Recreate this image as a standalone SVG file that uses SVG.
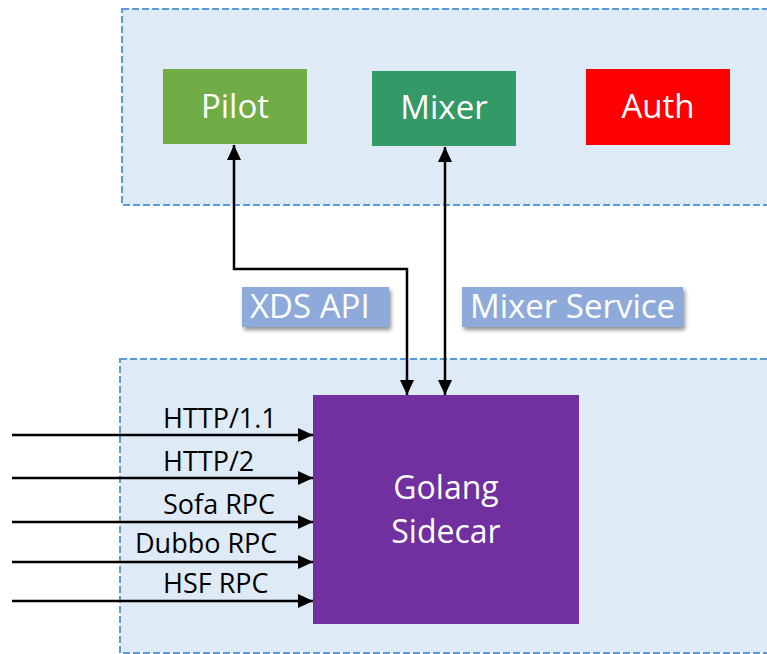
<svg xmlns="http://www.w3.org/2000/svg" width="767" height="654" viewBox="0 0 767 654">
<defs>
<style>
.container{fill:#deeaf6;stroke:#5b9bd5;stroke-width:2;stroke-dasharray:7 3}
.node text{fill:#ffffff;font-family:"Open Sans","Noto Sans",sans-serif;text-anchor:middle;font-size:33px}
.label rect{fill:#8eaadb}
.label text{fill:#ffffff;font-family:"Open Sans","Noto Sans",sans-serif;font-size:33px}
.conn{fill:none;stroke:#000;stroke-width:2.5}
.proto{fill:#000;font-family:"Open Sans","Noto Sans",sans-serif;font-size:27px}
</style>
<marker id="arr" viewBox="0 0 15 14" refX="15" refY="7" markerWidth="15" markerHeight="14" markerUnits="userSpaceOnUse" orient="auto-start-reverse">
<path d="M0,0 L15,7 L0,14 Z" fill="#000"/>
</marker>
<filter id="sh" x="-10%" y="-20%" width="130%" height="160%">
<feGaussianBlur in="SourceAlpha" stdDeviation="2"/>
<feOffset dx="2" dy="3"/>
<feComponentTransfer><feFuncA type="linear" slope="0.45"/></feComponentTransfer>
<feMerge><feMergeNode/><feMergeNode in="SourceGraphic"/></feMerge>
</filter>
</defs>
<rect width="767" height="654" fill="#ffffff"/>
<g id="control-plane">
<rect class="container" x="122" y="9" width="646" height="196"/>
</g>
<g id="data-plane">
<rect class="container" x="120" y="359" width="648" height="294"/>
</g>
<g id="pilot" class="node">
<rect x="163" y="69" width="144" height="75" fill="#70ad47"/>
<text x="235" y="118">Pilot</text>
</g>
<g id="mixer" class="node">
<rect x="372" y="71" width="144" height="75" fill="#339966"/>
<text x="444" y="119">Mixer</text>
</g>
<g id="auth" class="node">
<rect x="586" y="69" width="144" height="76" fill="#ff0000"/>
<text x="658" y="118">Auth</text>
</g>
<g id="sidecar" class="node">
<rect x="313" y="395" width="266" height="229" fill="#7030a0"/>
<text x="446" y="499" style="font-size:32px">Golang</text>
<text x="446" y="543" style="font-size:32px">Sidecar</text>
</g>
<g id="connectors">
<path class="conn" d="M234,145 V269 H407 V395" marker-start="url(#arr)" marker-end="url(#arr)"/>
<path class="conn" d="M445,147 V395" marker-start="url(#arr)" marker-end="url(#arr)"/>
<path class="conn" d="M12,435 H313" marker-end="url(#arr)"/>
<path class="conn" d="M12,478 H313" marker-end="url(#arr)"/>
<path class="conn" d="M12,522 H313" marker-end="url(#arr)"/>
<path class="conn" d="M12,562 H313" marker-end="url(#arr)"/>
<path class="conn" d="M12,601 H313" marker-end="url(#arr)"/>
<text class="proto" x="163" y="428">HTTP/1.1</text>
<text class="proto" x="163" y="471">HTTP/2</text>
<text class="proto" x="163" y="514">Sofa RPC</text>
<text class="proto" x="135" y="553">Dubbo RPC</text>
<text class="proto" x="163" y="593">HSF RPC</text>
</g>
<g id="label-xds" class="label">
<rect x="242" y="287" width="147" height="40" filter="url(#sh)"/>
<text x="250" y="318">XDS API</text>
</g>
<g id="label-mixer-service" class="label">
<rect x="462" y="287" width="221" height="40" filter="url(#sh)"/>
<text x="470" y="318">Mixer Service</text>
</g>
</svg>
